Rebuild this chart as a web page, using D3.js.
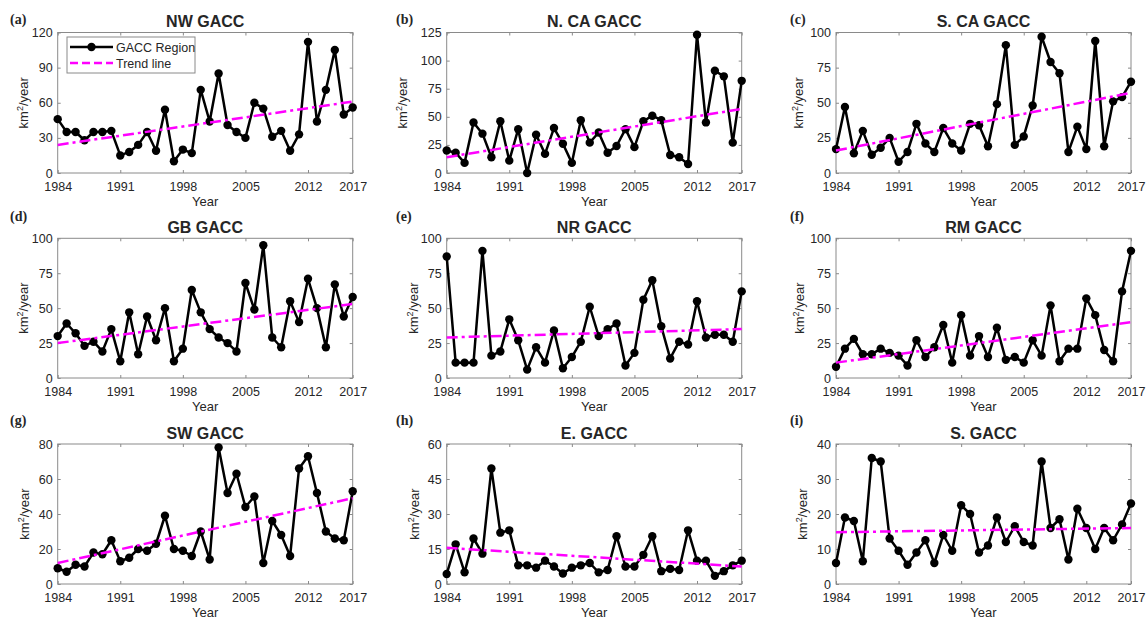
<!DOCTYPE html>
<html>
<head>
<meta charset="utf-8">
<script src="https://cdn.jsdelivr.net/npm/d3@7"></script>
<style>
body { margin: 0; background: #fff; }
text { font-family: "Liberation Sans", Arial, sans-serif; fill: #262626; }
</style>
</head>
<body>
<svg width="1146" height="620"></svg>
<script>
const years = d3.range(1984, 2018)
const xTicks = [1984, 1991, 1998, 2005, 2012, 2017]

const titles = ["NW GACC", "N. CA GACC", "S. CA GACC", "GB GACC", "NR GACC", "RM GACC", "SW GACC", "E. GACC", "S. GACC"]
const letters = ["(a)", "(b)", "(c)", "(d)", "(e)", "(f)", "(g)", "(h)", "(i)"]
const yMax = [120, 125, 100, 100, 100, 100, 80, 60, 40]
const yStep = [30, 25, 25, 25, 25, 25, 20, 15, 10]

// burned area per year
const nw = [46, 35, 35, 28, 35, 35, 36, 15, 18, 24, 35, 19, 54, 10, 20, 17, 71, 44, 85, 41, 35, 30, 60, 55, 31, 36, 19, 33, 112, 44, 71, 105, 50, 56]
const nca = [20, 18, 9, 45, 35, 14, 46, 11, 39, 0, 34, 17, 40, 26, 9, 47, 27, 36, 18, 24, 39, 23, 46, 51, 47, 16, 14, 8, 123, 45, 91, 86, 27, 82]
const sca = [17, 47, 14, 30, 13, 18, 25, 8, 15, 35, 21, 15, 32, 21, 16, 35, 34, 19, 49, 91, 20, 26, 48, 97, 79, 71, 15, 33, 17, 94, 19, 51, 54, 65]
const gb = [30, 39, 32, 23, 26, 19, 35, 12, 47, 17, 44, 27, 50, 12, 21, 63, 47, 35, 29, 25, 19, 68, 49, 95, 29, 22, 55, 40, 71, 50, 22, 67, 44, 58]
const nr = [87, 11, 11, 11, 91, 16, 19, 42, 27, 6, 22, 11, 34, 7, 15, 26, 51, 30, 35, 39, 9, 18, 56, 70, 37, 14, 26, 24, 55, 29, 31, 31, 26, 62]
const rm = [8, 21, 28, 17, 17, 21, 18, 16, 9, 27, 15, 22, 38, 11, 45, 16, 30, 15, 36, 13, 15, 11, 27, 16, 52, 12, 21, 21, 57, 45, 20, 12, 62, 91]
const sw = [9, 7, 11, 10, 18, 17, 25, 13, 15, 20, 19, 23, 39, 20, 19, 16, 30, 14, 78, 52, 63, 44, 50, 12, 36, 28, 16, 66, 73, 52, 30, 26, 25, 53]
const east = [4.3, 17, 5, 19.5, 13, 49.5, 22, 23, 8, 8, 7, 10, 7.5, 4.5, 7, 8, 9, 5, 6, 20.5, 7.5, 7.5, 12.5, 20.5, 5.5, 6.5, 6, 23, 10, 10, 3.5, 5.5, 8, 10]
const south = [6, 19, 18, 6.5, 36, 35, 13, 9.5, 5.5, 9, 12.5, 6, 14, 9.5, 22.5, 20, 9, 11, 19, 12, 16.5, 12, 11, 35, 16, 18.5, 7, 21.5, 16, 10, 16, 12.5, 17, 23]
const series = [nw, nca, sca, gb, nr, rm, sw, east, south]

// trend line values at 1984 and 2017
const trendStart = [24, 14, 16, 25, 29, 11, 12, 15.5, 14.8]
const trendEnd = [61, 57, 57, 53, 35, 40, 49, 7.5, 16]

const svg = d3.select('svg')
const colLeft = [57.7, 446.7, 836]
const plotW = 295
const rowTop = [32.5, 238.3, 444]
const rowBottom = [173, 378, 584]
const letterX = [10, 396, 790]
const letterY = [24, 221, 425]
const ylabOff = [30, 40, 33, 30, 29, 32, 29, 28, 29]
const axisCol = '#8a8a8a'
const magenta = '#ff00ff'
const dash = '11,4,3,4'

series.forEach((vals, i) => {
	const c = i % 3
	const r = Math.floor(i / 3)
	const left = colLeft[c], right = left + plotW
	const top = rowTop[r], bottom = rowBottom[r]
	const x = d3.scaleLinear().domain([1984, 2017]).range([left, right])
	const y = d3.scaleLinear().domain([0, yMax[i]]).range([bottom, top])
	const yTicks = d3.range(0, yMax[i] + 0.1, yStep[i])
	const g = svg.append('g')

	const styleAxis = sel => {
		sel.select('.domain').remove()
		sel.selectAll('line').attr('stroke', axisCol)
		sel.selectAll('text').style('font-size', '12.5px').attr('fill', '#262626')
	}

	g.append('g')
		.attr('transform', `translate(0,${bottom})`)
		.call(d3.axisBottom(x).tickValues(xTicks).tickSize(-3).tickPadding(9).tickFormat(d3.format('d')))
		.call(styleAxis)
	g.append('g')
		.attr('transform', `translate(0,${top})`)
		.call(d3.axisTop(x).tickValues(xTicks).tickSize(-3).tickFormat(''))
		.call(styleAxis)
	g.append('g')
		.attr('transform', `translate(${left},0)`)
		.call(d3.axisLeft(y).tickValues(yTicks).tickSize(-3).tickPadding(5))
		.call(styleAxis)
	g.append('g')
		.attr('transform', `translate(${right},0)`)
		.call(d3.axisRight(y).tickValues(yTicks).tickSize(-3).tickFormat(''))
		.call(styleAxis)

	g.append('rect')
		.attr('x', left).attr('y', top)
		.attr('width', right - left).attr('height', bottom - top)
		.attr('fill', 'none').attr('stroke', axisCol).attr('stroke-width', 1)

	// data line
	const line = d3.line().x((d, k) => x(years[k])).y(d => y(d))
	g.append('path')
		.datum(vals)
		.attr('d', line)
		.attr('fill', 'none')
		.attr('stroke', '#000')
		.attr('stroke-width', 2.5)
		.attr('stroke-linejoin', 'round')
	g.selectAll('.pt')
		.data(vals)
		.join('circle')
		.attr('cx', (d, k) => x(years[k]))
		.attr('cy', d => y(d))
		.attr('r', 4.2)
		.attr('fill', '#000')

	// trend
	g.append('line')
		.attr('x1', x(1984)).attr('y1', y(trendStart[i]))
		.attr('x2', x(2017)).attr('y2', y(trendEnd[i]))
		.attr('stroke', magenta)
		.attr('stroke-width', 2.5)
		.attr('stroke-dasharray', dash)

	// titles and labels
	g.append('text')
		.attr('x', (left + right) / 2).attr('y', top - 5.5)
		.attr('text-anchor', 'middle')
		.style('font-size', '16px').style('font-weight', 'bold')
		.attr('fill', '#000')
		.text(titles[i])
	g.append('text')
		.attr('x', letterX[c]).attr('y', letterY[r])
		.style('font-family', '"Liberation Serif", "Times New Roman", serif')
		.style('font-size', '14px').style('font-weight', 'bold')
		.attr('fill', '#000')
		.text(letters[i])
	g.append('text')
		.attr('x', (left + right) / 2).attr('y', bottom + 33)
		.attr('text-anchor', 'middle')
		.style('font-size', '13px')
		.text('Year')
	const yl = g.append('text')
		.attr('transform', `translate(${left - ylabOff[i]},${(top + bottom) / 2}) rotate(-90)`)
		.attr('text-anchor', 'middle')
		.style('font-size', '13px')
	yl.append('tspan').text('km')
	yl.append('tspan').attr('dy', -5).style('font-size', '9px').text('2')
	yl.append('tspan').attr('dy', 5).text('/year')

	if (i === 0) {
		const lg = g.append('g')
		lg.append('rect')
			.attr('x', 67).attr('y', 37).attr('width', 128).attr('height', 36)
			.attr('fill', '#fff').attr('stroke', axisCol)
		lg.append('line')
			.attr('x1', 70).attr('x2', 113).attr('y1', 47).attr('y2', 47)
			.attr('stroke', '#000').attr('stroke-width', 2.5)
		lg.append('circle').attr('cx', 91.5).attr('cy', 47).attr('r', 4.2).attr('fill', '#000')
		lg.append('line')
			.attr('x1', 70).attr('x2', 113).attr('y1', 63).attr('y2', 63)
			.attr('stroke', magenta).attr('stroke-width', 2.5).attr('stroke-dasharray', '8,4')
		lg.append('text').attr('x', 116).attr('y', 51.5).style('font-size', '12.5px').text('GACC Region')
		lg.append('text').attr('x', 116).attr('y', 67.5).style('font-size', '12.5px').text('Trend line')
	}
})
</script>
</body>
</html>
